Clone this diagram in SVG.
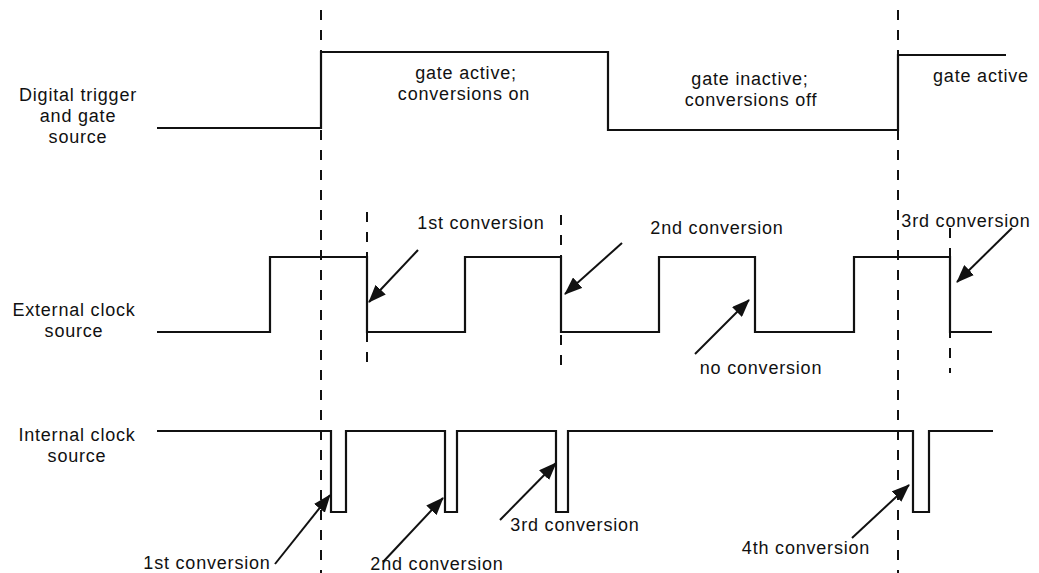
<svg xmlns="http://www.w3.org/2000/svg" width="1039" height="573" viewBox="0 0 1039 573">
<style>
text{font-family:"Liberation Sans",Arial,sans-serif;font-size:18px;letter-spacing:0.8px;fill:#111}
.sig{fill:none;stroke:#111;stroke-width:2.2}
.dash{fill:none;stroke:#111;stroke-width:2;stroke-dasharray:10 10}
.arr{fill:none;stroke:#111;stroke-width:2;marker-end:url(#ah)}
</style>
<defs>
<marker id="ah" markerWidth="18" markerHeight="14" refX="17" refY="7" orient="auto" markerUnits="userSpaceOnUse" viewBox="0 0 18 14">
<path d="M0,0 L18,7 L0,14 Z" fill="#111"/>
</marker>
</defs>
<rect width="1039" height="573" fill="#fff"/>
<g id="labels" text-anchor="middle">
<text x="78" y="101">Digital trigger</text>
<text x="78" y="122">and gate</text>
<text x="78" y="143">source</text>
<text x="74" y="316">External clock</text>
<text x="74" y="337">source</text>
<text x="77" y="441">Internal clock</text>
<text x="77" y="462">source</text>
</g>
<g id="gate-signal">
<path class="sig" d="M157,128 H321 V52 H608 V130 H898 V55 H1006"/>
<text x="466" y="79" text-anchor="middle">gate active;</text>
<text x="464" y="100" text-anchor="middle">conversions on</text>
<text x="750" y="85" text-anchor="middle">gate inactive;</text>
<text x="751" y="106" text-anchor="middle">conversions off</text>
<text x="981" y="82" text-anchor="middle">gate active</text>
</g>
<g id="external-clock">
<path class="sig" d="M157,332 H270 V257 H367 V332 H465 V257 H561 V332 H659 V257 H755 V332 H854 V257 H950 V332 H992"/>
<text x="481" y="229" text-anchor="middle">1st conversion</text>
<text x="717" y="234" text-anchor="middle">2nd conversion</text>
<text x="966" y="227" text-anchor="middle">3rd conversion</text>
<text x="761" y="374" text-anchor="middle">no conversion</text>
</g>
<g id="internal-clock">
<path class="sig" d="M157,431 H331 V512 H346 V431 H445 V512 H457 V431 H556 V512 H568 V431 H913 V512 H929 V431 H993"/>
<text x="207" y="569" text-anchor="middle">1st conversion</text>
<text x="437" y="570" text-anchor="middle">2nd conversion</text>
<text x="575" y="531" text-anchor="middle">3rd conversion</text>
<text x="806" y="554" text-anchor="middle">4th conversion</text>
</g>
<g id="connectors">
<line class="dash" x1="321" y1="10" x2="321" y2="573"/>
<line class="dash" x1="898" y1="10" x2="898" y2="573"/>
<line class="dash" x1="367" y1="212" x2="367" y2="365"/>
<line class="dash" x1="561" y1="215" x2="561" y2="367"/>
<line class="dash" x1="950" y1="228" x2="950" y2="373"/>
<line class="arr" x1="418" y1="250" x2="369" y2="302"/>
<line class="arr" x1="622" y1="243" x2="565" y2="294"/>
<line class="arr" x1="695" y1="354" x2="749" y2="300"/>
<line class="arr" x1="1012" y1="228" x2="957" y2="282"/>
<line class="arr" x1="275" y1="564" x2="330" y2="495"/>
<line class="arr" x1="383" y1="562" x2="443" y2="498"/>
<line class="arr" x1="500" y1="520" x2="556" y2="463"/>
<line class="arr" x1="852" y1="538" x2="909" y2="485"/>
</g>
</svg>
